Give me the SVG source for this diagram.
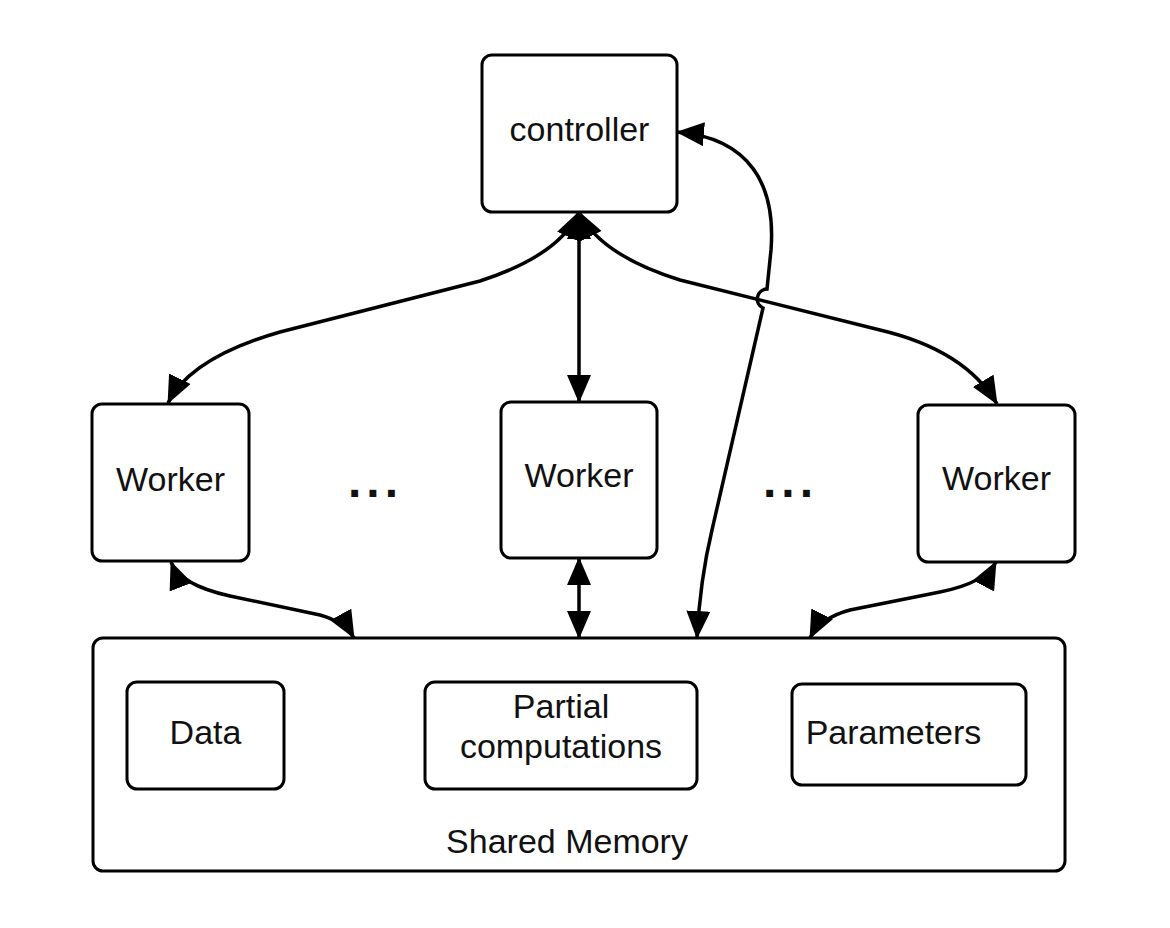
<svg xmlns="http://www.w3.org/2000/svg" width="1170" height="928" viewBox="0 0 1170 928">
<style>
.box{fill:#fff;stroke:#000;stroke-width:3}
.lbl{font-family:"Liberation Sans",Arial,sans-serif;font-size:34px;fill:#111;text-anchor:middle}
.dots{font-family:"Liberation Sans",Arial,sans-serif;font-size:48px;font-weight:bold;fill:#111;letter-spacing:5px}
.edge{fill:none;stroke:#000;stroke-width:3.5;marker-start:url(#ah);marker-end:url(#ah)}
</style>
<defs>
<marker id="ah" viewBox="0 0 28 24" refX="27" refY="12" markerWidth="28" markerHeight="24" markerUnits="userSpaceOnUse" orient="auto-start-reverse">
<path d="M0,0 L28,12 L0,24 z" fill="#000"/>
</marker>
</defs>
<rect width="1170" height="928" fill="#fff"/>
<g id="shared-memory">
<rect class="box" x="93" y="638" width="972" height="233" rx="10"/>
<text class="lbl" x="567" y="853">Shared Memory</text>
</g>
<g id="data">
<rect class="box" x="127" y="682" width="157" height="107" rx="10"/>
<text class="lbl" x="205.5" y="744">Data</text>
</g>
<g id="partial">
<rect class="box" x="425" y="682" width="272" height="107" rx="10"/>
<text class="lbl" x="561" y="718">Partial</text>
<text class="lbl" x="561" y="758">computations</text>
</g>
<g id="parameters">
<rect class="box" x="792" y="684" width="234" height="101" rx="10"/>
<text class="lbl" x="893.5" y="744">Parameters</text>
</g>
<g id="controller">
<rect class="box" x="482" y="55" width="195" height="157" rx="10"/>
<text class="lbl" x="579.5" y="141">controller</text>
</g>
<g id="worker-left">
<rect class="box" x="92" y="404" width="157" height="157" rx="10"/>
<text class="lbl" x="170.5" y="491">Worker</text>
</g>
<g id="worker-mid">
<rect class="box" x="501" y="402" width="156" height="156" rx="10"/>
<text class="lbl" x="579" y="487">Worker</text>
</g>
<g id="worker-right">
<rect class="box" x="918" y="405" width="157" height="157" rx="10"/>
<text class="lbl" x="996.5" y="490">Worker</text>
</g>
<g id="ellipsis">
<text class="dots" x="348" y="497">...</text>
<text class="dots" x="763" y="497">...</text>
</g>
<g id="connectors">
<path class="edge" d="M579,212 L579,402"/>
<path class="edge" d="M579,212 Q560,255 480,281 L280,332 Q190,358 168,403"/>
<path class="edge" d="M579,212 Q600,255 680,280 L880,330 Q965,350 997,404"/>
<path class="edge" d="M677,132 C750,138 776,185 771,250 L767,289 A10,10 0 0 0 763,308 L712,530 Q700,580 697,638"/>
<path class="edge" d="M171,562 Q180,585 230,596 L320,615 Q345,622 354,638"/>
<path class="edge" d="M579,558 L579,638"/>
<path class="edge" d="M996,562 Q985,583 940,592 L850,610 Q820,618 810,638"/>
</g>
</svg>
